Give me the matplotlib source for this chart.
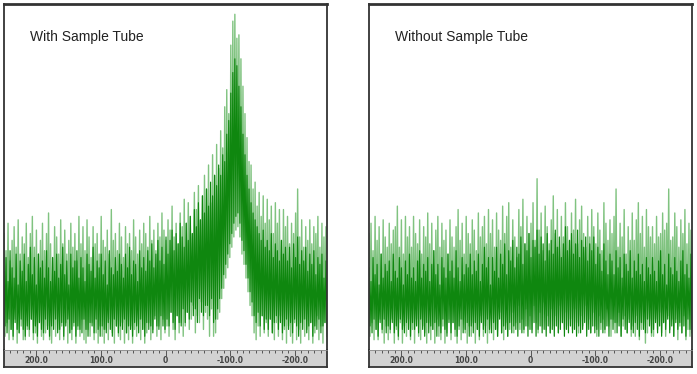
import numpy as np
import matplotlib.pyplot as plt

# chemical shift range shown on the ruler (ppm, reversed axis)
ppm_left, ppm_right = 250, -250
tick_major = [200, 100, 0, -100, -200]
tick_labels = ['200.0', '100.0', '0', '-100.0', '-200.0']
titles = ['With Sample Tube', 'Without Sample Tube']

# spectrum with sample tube: light outer trace (tall spikes) and dark core trace
with_outer = [
    33, 3, 28, 7, 36, 2, 25, 5, 31, 2, 35, 8, 29, 1, 37, 4, 27, 6, 32, 2,
    30, 2, 36, 5, 26, 3, 33, 8, 38, 2, 29, 4, 34, 1, 27, 7, 31, 3, 36, 2,
    28, 4, 33, 6, 39, 2, 30, 1, 26, 8, 35, 3, 32, 5, 27, 2, 37, 6, 30, 2,
    34, 7, 27, 1, 31, 4, 36, 2, 29, 6, 33, 1, 25, 5, 38, 3, 30, 8, 35, 2,
    28, 1, 37, 5, 32, 3, 26, 7, 35, 2, 30, 4, 33, 1, 27, 6, 38, 3, 31, 1,
    29, 5, 34, 2, 27, 8, 40, 4, 31, 1, 33, 6, 28, 3, 36, 2, 32, 7, 26, 1,
    35, 4, 30, 2, 33, 6, 28, 1, 37, 5, 32, 3, 27, 8, 34, 2, 30, 5, 36, 1,
    33, 4, 29, 7, 38, 2, 31, 5, 34, 9, 28, 3, 36, 6, 32, 2, 39, 8, 34, 4,
    31, 6, 37, 3, 34, 10, 41, 5, 32, 2, 36, 9, 30, 4, 39, 7, 35, 3, 43, 6,
    36, 10, 42, 5, 38, 8, 33, 12, 45, 4, 40, 9, 47, 7, 37, 13, 44, 5, 50, 10,
    46, 8, 53, 3, 42, 11, 56, 3, 50, 4, 59, 8, 52, 10, 63, 14, 58, 17, 70, 20,
    75, 23, 68, 26, 88, 29, 95, 32, 97, 34, 90, 35, 91, 32, 84, 27, 76, 24, 68, 20,
    61, 16, 54, 12, 53, 9, 46, 4, 48, 2, 41, 6, 45, 3, 38, 9, 44, 4, 36, 7,
    43, 3, 37, 8, 41, 4, 33, 2, 42, 7, 36, 3, 40, 9, 31, 2, 40, 5, 35, 1,
    38, 6, 30, 3, 36, 1, 33, 7, 39, 2, 46, 5, 32, 1, 37, 8, 29, 3, 35, 5,
    31, 2, 37, 7, 30, 1, 35, 4, 33, 9, 38, 2, 29, 6, 36, 1, 32, 7, 35, 3,
]
with_core = [
    22, 6, 26, 4, 19, 8, 28, 5, 23, 3, 20, 7, 27, 5, 18, 4, 25, 8, 22, 5,
    27, 3, 19, 6, 24, 5, 29, 8, 21, 4, 26, 6, 18, 3, 27, 7, 23, 5, 25, 4,
    20, 8, 28, 5, 23, 3, 19, 6, 26, 5, 22, 8, 27, 4, 20, 5, 24, 7, 29, 3,
    21, 6, 25, 8, 18, 4, 27, 5, 23, 7, 25, 3, 28, 6, 20, 5, 26, 4, 23, 8,
    19, 5, 27, 3, 24, 7, 22, 6, 29, 4, 20, 8, 25, 5, 23, 3, 27, 6, 21, 5,
    25, 4, 18, 7, 28, 5, 23, 3, 21, 8, 26, 6, 22, 4, 27, 6, 24, 5, 20, 8,
    27, 4, 23, 6, 29, 5, 21, 3, 25, 7, 24, 6, 19, 4, 28, 8, 23, 5, 26, 3,
    22, 7, 28, 5, 25, 6, 30, 4, 23, 8, 27, 6, 31, 5, 25, 9, 29, 6, 24, 5,
    32, 8, 27, 6, 31, 10, 34, 7, 28, 5, 33, 9, 30, 7, 36, 6, 32, 11, 29, 7,
    36, 10, 31, 8, 38, 13, 33, 9, 40, 11, 35, 7, 42, 14, 37, 10, 44, 9, 39, 12,
    46, 12, 41, 9, 48, 14, 44, 7, 50, 8, 47, 11, 53, 14, 50, 17, 56, 21, 54, 24,
    62, 27, 66, 30, 74, 33, 80, 36, 84, 38, 82, 39, 76, 36, 70, 31, 62, 28, 56, 24,
    50, 20, 46, 16, 42, 13, 39, 9, 37, 7, 35, 10, 33, 6, 31, 9, 34, 5, 29, 8,
    31, 5, 28, 8, 33, 4, 26, 7, 30, 9, 28, 5, 25, 7, 31, 4, 27, 6, 29, 8,
    25, 5, 29, 7, 23, 4, 30, 8, 26, 6, 32, 3, 24, 7, 28, 5, 25, 8, 29, 4,
    22, 6, 27, 7, 24, 3, 28, 6, 21, 5, 26, 8, 24, 4, 27, 6, 20, 7, 25, 5,
]

# spectrum without sample tube
without_outer = [
    33, 3, 36, 7, 28, 2, 38, 5, 31, 2, 35, 8, 27, 4, 37, 1, 32, 6, 29, 2,
    36, 4, 30, 8, 34, 1, 35, 5, 41, 2, 29, 7, 37, 1, 27, 6, 38, 3, 32, 8,
    35, 2, 29, 5, 38, 1, 33, 8, 30, 3, 37, 2, 27, 6, 35, 4, 32, 1, 39, 7,
    30, 2, 36, 5, 28, 1, 34, 8, 38, 3, 29, 2, 36, 6, 31, 1, 34, 4, 27, 8,
    37, 2, 32, 7, 29, 3, 35, 1, 40, 5, 31, 2, 36, 8, 27, 4, 38, 1, 33, 6,
    30, 3, 37, 7, 34, 1, 28, 5, 39, 2, 32, 9, 35, 3, 38, 6, 30, 1, 40, 4,
    33, 8, 37, 2, 29, 5, 39, 3, 34, 10, 31, 4, 41, 2, 33, 7, 38, 3, 42, 5,
    29, 10, 37, 4, 32, 7, 26, 12, 40, 5, 35, 8, 43, 4, 30, 11, 38, 6, 33, 9,
    36, 5, 42, 12, 31, 7, 49, 4, 34, 10, 39, 6, 28, 13, 41, 5, 35, 9, 30, 4,
    37, 11, 44, 6, 33, 9, 40, 4, 29, 12, 38, 7, 32, 5, 42, 10, 35, 6, 31, 8,
    39, 5, 34, 11, 43, 7, 30, 4, 37, 9, 41, 6, 33, 12, 29, 5, 38, 8, 32, 4,
    40, 10, 35, 6, 30, 3, 39, 9, 34, 5, 28, 8, 42, 4, 36, 11, 31, 6, 37, 3,
    33, 8, 38, 4, 46, 7, 29, 10, 36, 3, 32, 6, 40, 9, 27, 4, 35, 8, 31, 3,
    39, 6, 31, 3, 37, 9, 42, 2, 33, 5, 38, 7, 29, 1, 40, 4, 35, 8, 32, 3,
    35, 3, 30, 8, 38, 5, 32, 10, 33, 4, 39, 7, 34, 3, 36, 9, 46, 5, 31, 8,
    32, 3, 39, 8, 35, 2, 29, 6, 37, 4, 33, 9, 40, 2, 30, 5, 36, 3, 34, 7,
]
without_core = [
    23, 6, 19, 4, 26, 8, 21, 5, 24, 3, 18, 7, 27, 5, 20, 8, 24, 4, 22, 6,
    25, 5, 19, 7, 27, 4, 22, 6, 20, 3, 26, 8, 23, 5, 18, 4, 25, 7, 21, 5,
    27, 3, 20, 7, 23, 5, 19, 6, 25, 4, 28, 8, 20, 5, 24, 3, 22, 7, 26, 4,
    19, 6, 24, 5, 28, 7, 21, 3, 24, 6, 18, 4, 26, 8, 23, 5, 20, 3, 27, 7,
    22, 4, 25, 7, 20, 5, 28, 3, 23, 6, 19, 8, 26, 4, 21, 5, 24, 7, 23, 3,
    27, 6, 21, 4, 25, 7, 22, 5, 27, 3, 19, 7, 24, 5, 29, 4, 23, 8, 26, 5,
    18, 4, 26, 7, 22, 5, 29, 3, 20, 8, 27, 4, 24, 6, 30, 5, 21, 3, 28, 7,
    25, 4, 31, 6, 23, 5, 29, 3, 27, 7, 32, 4, 24, 5, 30, 6, 28, 3, 33, 5,
    26, 4, 31, 7, 29, 3, 34, 5, 27, 6, 32, 4, 30, 5, 25, 3, 33, 6, 28, 4,
    31, 5, 27, 3, 34, 6, 29, 4, 32, 5, 26, 7, 30, 3, 35, 5, 28, 4, 31, 6,
    33, 4, 27, 5, 30, 3, 34, 6, 26, 4, 31, 5, 29, 7, 32, 3, 25, 5, 30, 4,
    28, 6, 32, 4, 24, 5, 29, 3, 27, 7, 22, 4, 30, 5, 25, 6, 21, 3, 27, 8,
    25, 5, 21, 7, 28, 4, 23, 6, 26, 3, 20, 8, 27, 5, 24, 4, 22, 7, 28, 5,
    20, 4, 25, 7, 22, 5, 27, 3, 21, 7, 24, 5, 19, 4, 26, 8, 23, 6, 21, 4,
    26, 5, 22, 7, 19, 4, 25, 6, 28, 3, 21, 7, 24, 5, 18, 8, 27, 4, 23, 6,
    21, 3, 26, 7, 22, 5, 19, 7, 25, 4, 28, 6, 21, 3, 24, 8, 20, 5, 27, 4,
]

W, H = 697, 374
fig = plt.figure(figsize=(W / 100, H / 100), dpi=100)
fig.patch.set_facecolor('white')

panels = [
    (4, titles[0], with_outer, with_core),
    (369, titles[1], without_outer, without_core),
]

for x0, title, outer, core in panels:
    w = 323
    ax = fig.add_axes([x0 / W, (H - 350) / H, w / W, 346 / H])
    ppm_o = np.linspace(ppm_left, ppm_right, len(outer))
    ppm_c = np.linspace(ppm_left, ppm_right, len(core))
    ax.plot(ppm_o, outer, color='#80c380', lw=1.0)
    ax.plot(ppm_c, core, color='#0f870f', lw=0.85)
    ax.set_xlim(ppm_left, ppm_right)
    ax.set_ylim(-1, 100)
    ax.set_xticks([])
    ax.set_yticks([])
    for side in ['left', 'top', 'right']:
        ax.spines[side].set_color('#333333')
        ax.spines[side].set_linewidth(1.3)
    ax.spines['top'].set_linewidth(2.0)
    ax.spines['bottom'].set_visible(False)
    ax.text(0.08, 0.905, title, transform=ax.transAxes, fontsize=10,
            family='Liberation Sans', color='#222222', va='center')

    # ruler strip below the spectrum
    rl = fig.add_axes([x0 / W, (H - 367) / H, w / W, 17 / H])
    rl.set_facecolor('#d2d2d2')
    rl.set_xlim(ppm_left, ppm_right)
    rl.set_yticks([])
    rl.set_xticks(tick_major)
    rl.set_xticks(np.arange(240, -250, -10), minor=True)
    rl.set_xticklabels(tick_labels)
    rl.tick_params(axis='x', which='both', top=True, bottom=False,
                   labeltop=True, labelbottom=False, direction='in',
                   color='#555555', width=0.7)
    rl.tick_params(axis='x', which='major', length=4, pad=-11,
                   labelsize=5.5, labelcolor='#444444')
    rl.tick_params(axis='x', which='minor', length=2)
    for lab in rl.get_xticklabels():
        lab.set_fontweight('bold')
    for side in ['left', 'right', 'bottom']:
        rl.spines[side].set_color('#333333')
        rl.spines[side].set_linewidth(1.3)
    rl.spines['top'].set_color('#888888')
    rl.spines['top'].set_linewidth(0.6)

fig.savefig('out.png', dpi=100)
